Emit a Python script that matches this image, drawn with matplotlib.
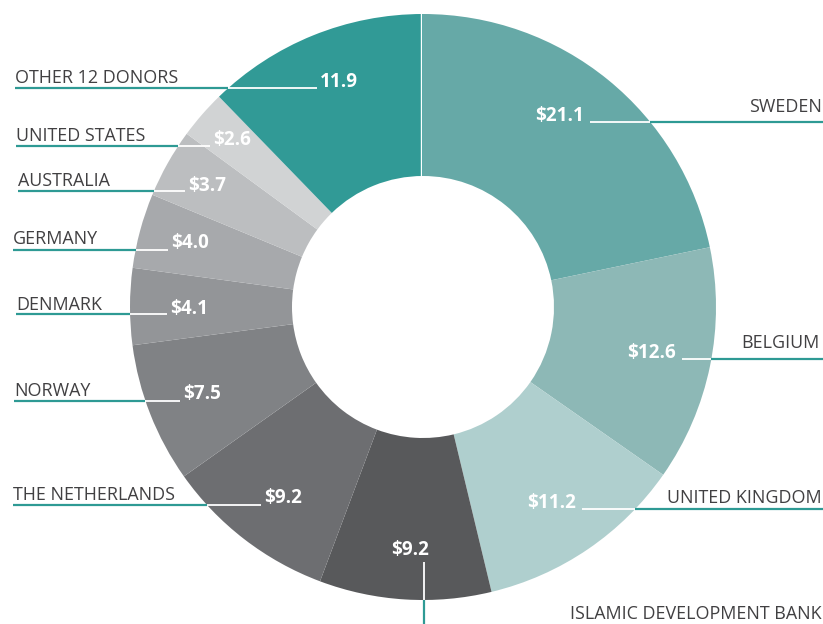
import matplotlib.pyplot as plt
import numpy as np

# donor contributions, clockwise from 12 o'clock
donors = ['SWEDEN', 'BELGIUM', 'UNITED KINGDOM', 'ISLAMIC DEVELOPMENT BANK',
          'THE NETHERLANDS', 'NORWAY', 'DENMARK', 'GERMANY', 'AUSTRALIA',
          'UNITED STATES', 'OTHER 12 DONORS']
amounts = [21.1, 12.6, 11.2, 9.2, 9.2, 7.5, 4.1, 4.0, 3.7, 2.6, 11.9]
value_labels = ['$21.1', '$12.6', '$11.2', '$9.2', '$9.2', '$7.5', '$4.1',
                '$4.0', '$3.7', '$2.6', '11.9']
colors = ['#66a9a7', '#8db8b6', '#afcfce', '#58595b', '#6d6e71', '#808285',
          '#939598', '#a7a9ac', '#bcbec0', '#d1d3d4', '#319a96']

TEAL = '#2e9a94'
TEXT = '#414042'
W, H = 823, 624
cx, cy = 423, H - 307
R, R_IN = 293, 131

plt.rcParams['font.family'] = ['Open Sans', 'DejaVu Sans']

fig = plt.figure(figsize=(W / 100, H / 100), dpi=100)
ax = fig.add_axes([0, 0, 1, 1])

ax.pie(amounts, colors=colors, startangle=90, counterclock=False,
       radius=R, center=(cx, cy),
       wedgeprops=dict(width=R - R_IN, linewidth=0))
ax.plot([cx - 2, cx - 2], [cy + R_IN, cy + R], color='white', lw=1)

ax.set_xlim(0, W)
ax.set_ylim(0, H)
ax.set_aspect('equal')
ax.axis('off')


def Y(y):
    return H - y


# label layout in pixel coords (from top): line y, inner end x, name anchor x,
# name baseline y, value text y
right_layout = {
    'SWEDEN': (122, 590, 822, 112, 116),
    'BELGIUM': (359, 682, 820, 348, 353),
    'UNITED KINGDOM': (509, 582, 822, 503, 503),
}
left_layout = {
    'THE NETHERLANDS': (505, 261, 13, 500, 498),
    'NORWAY': (401, 180, 14, 396, 394),
    'DENMARK': (314, 167, 16, 310, 309),
    'GERMANY': (250, 168, 13, 244, 243),
    'AUSTRALIA': (191, 185, 18, 186, 186),
    'UNITED STATES': (146, 210, 16, 141, 140),
    'OTHER 12 DONORS': (88, 317, 15, 83, 82),
}

name_fs = 12.9
val_fs = 13.6

for name, val in zip(donors, value_labels):
    if name in right_layout:
        ly, x0, nx, nb, vy = right_layout[name]
        xe = cx + np.sqrt(R ** 2 - (Y(ly) - cy) ** 2)
        ax.plot([x0, xe], [Y(ly), Y(ly)], color='white', lw=1.3, solid_capstyle='butt')
        ax.plot([xe, W], [Y(ly), Y(ly)], color=TEAL, lw=1.6, solid_capstyle='butt')
        ax.text(nx, Y(nb), name, ha='right', va='baseline', fontsize=name_fs, color=TEXT)
        ax.text(x0 - 6, Y(vy), val, ha='right', va='center', fontsize=val_fs,
                color='white', fontweight='bold')
    elif name in left_layout:
        ly, x1, nx, nb, vy = left_layout[name]
        xe = cx - np.sqrt(R ** 2 - (Y(ly) - cy) ** 2)
        ax.plot([nx, xe], [Y(ly), Y(ly)], color=TEAL, lw=1.6, solid_capstyle='butt')
        ax.plot([xe, x1], [Y(ly), Y(ly)], color='white', lw=1.3, solid_capstyle='butt')
        ax.text(nx, Y(nb), name, ha='left', va='baseline', fontsize=name_fs, color=TEXT)
        ax.text(x1 + 3, Y(vy), val, ha='left', va='center', fontsize=val_fs,
                color='white', fontweight='bold')
    else:
        # islamic development bank: vertical leader down to bottom edge
        lx = 424
        ye = cy - np.sqrt(R ** 2 - (lx - cx) ** 2)
        ax.plot([lx, lx], [Y(562), ye], color='white', lw=1.3, solid_capstyle='butt')
        ax.plot([lx, lx], [ye, 0], color=TEAL, lw=1.6, solid_capstyle='butt')
        ax.text(822, Y(619), name, ha='right', va='baseline', fontsize=name_fs, color=TEXT)
        ax.text(410, Y(550), val, ha='center', va='center', fontsize=val_fs,
                color='white', fontweight='bold')

fig.savefig('out.png', dpi=100)
